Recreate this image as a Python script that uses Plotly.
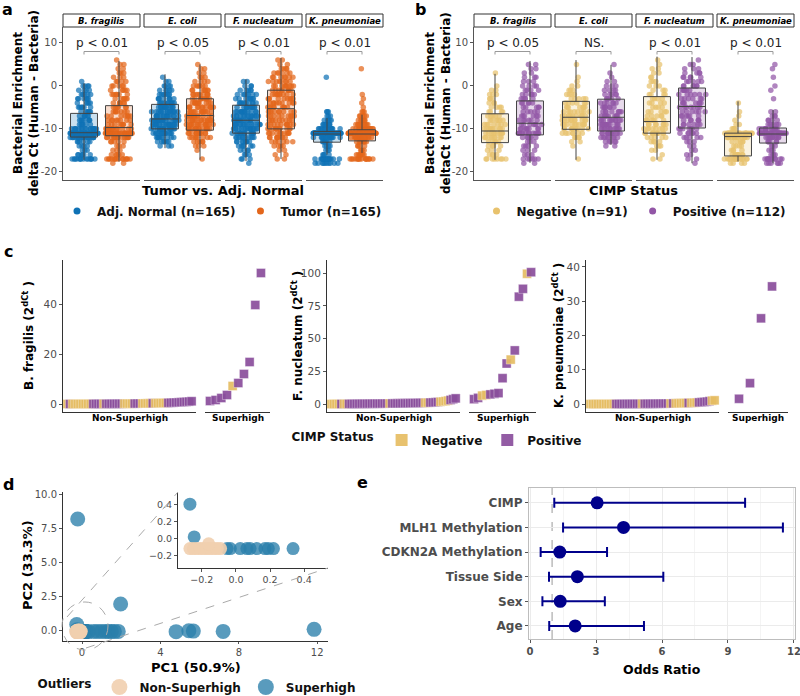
import numpy as np
import plotly.graph_objects as go

W, H = 800, 696
FONT = "DejaVu Sans"
TICK_COLOR = "#4d4d4d"
TF = dict(family=FONT, size=10, color=TICK_COLOR)

# ---------------- data: panels a / b (delta Ct, counts per 1-unit bin) ----------------
species = ["B. fragilis", "E. coli", "F. nucleatum", "K. pneumoniae"]
dct_bins = list(range(-18, 7))  # -18 ... 6

a_normal_counts = [
    [0, 14, 6, 3, 4, 6, 22, 38, 16, 6, 7, 6, 6, 6, 5, 6, 5, 4, 4, 1, 0, 0, 0, 0, 0],
    [0, 0, 0, 0, 3, 6, 9, 14, 18, 18, 18, 16, 14, 12, 10, 8, 7, 5, 4, 2, 1, 0, 0, 0, 0],
    [1, 3, 3, 4, 6, 8, 11, 14, 15, 15, 14, 13, 12, 11, 10, 8, 7, 5, 3, 2, 0, 0, 0, 0, 0],
    [10, 18, 4, 3, 4, 6, 14, 70, 16, 8, 5, 3, 3, 0, 0, 0, 0, 0, 0, 0, 1, 0, 0, 0, 0],
]
a_tumor_counts = [
    [2, 14, 5, 3, 3, 5, 14, 28, 12, 8, 8, 7, 7, 6, 6, 6, 6, 5, 5, 4, 3, 3, 2, 2, 1],
    [0, 1, 0, 1, 3, 5, 8, 12, 15, 14, 14, 13, 12, 12, 11, 10, 9, 7, 6, 4, 3, 2, 2, 1, 0],
    [0, 2, 2, 2, 4, 6, 8, 10, 11, 10, 9, 9, 9, 9, 9, 9, 9, 9, 9, 8, 7, 6, 4, 2, 2],
    [0, 16, 8, 4, 4, 8, 16, 58, 22, 10, 6, 5, 3, 1, 1, 1, 1, 0, 0, 0, 0, 0, 1, 0, 0],
]
b_neg_counts = [
    [0, 8, 4, 3, 4, 5, 8, 10, 10, 7, 6, 5, 4, 4, 3, 3, 3, 2, 1, 0, 0, 1, 0, 0, 0],
    [0, 1, 0, 0, 1, 2, 4, 7, 9, 10, 10, 9, 8, 7, 6, 5, 4, 3, 2, 1, 1, 0, 0, 1, 0],
    [0, 2, 1, 2, 3, 4, 5, 10, 8, 7, 6, 5, 5, 4, 4, 4, 4, 3, 3, 3, 2, 2, 2, 1, 1],
    [4, 16, 8, 4, 4, 5, 14, 26, 4, 2, 1, 1, 1, 0, 1, 0, 0, 0, 0, 0, 0, 0, 0, 0, 0],
]
b_pos_counts = [
    [2, 6, 3, 3, 4, 3, 6, 13, 8, 7, 6, 6, 5, 5, 5, 5, 5, 4, 4, 3, 3, 2, 2, 2, 0],
    [0, 0, 0, 0, 2, 5, 8, 12, 12, 11, 10, 9, 8, 7, 6, 5, 5, 4, 3, 2, 1, 1, 0, 1, 0],
    [1, 2, 2, 2, 2, 3, 5, 6, 7, 6, 6, 6, 6, 7, 7, 6, 6, 6, 6, 5, 5, 4, 3, 2, 1],
    [6, 12, 4, 3, 3, 5, 10, 34, 14, 6, 4, 3, 2, 0, 0, 1, 0, 1, 1, 0, 1, 0, 1, 1, 0],
]

# box statistics per species (q1, median, q3, lower whisker, upper whisker)
a_normal_q1 = [-11.9, -10.0, -11.0, -13.1]
a_normal_med = [-10.9, -7.7, -8.0, -11.2]
a_normal_q3 = [-6.4, -4.3, -4.5, -10.6]
a_normal_lo = [-17.2, -14.5, -17.5, -16.0]
a_normal_hi = [0.6, 2.7, 1.5, -7.5]
a_tumor_q1 = [-11.6, -10.3, -10.0, -12.8]
a_tumor_med = [-9.7, -6.9, -5.3, -11.2]
a_tumor_q3 = [-4.6, -3.0, -1.0, -10.2]
a_tumor_lo = [-17.6, -17.2, -17.0, -15.6]
a_tumor_hi = [5.8, 5.0, 6.5, -6.7]

b_neg_q1 = [-13.2, -10.1, -11.0, -16.3]
b_neg_med = [-10.5, -7.3, -8.3, -11.8]
b_neg_q3 = [-6.5, -3.6, -2.5, -11.0]
b_neg_lo = [-17.2, -17.2, -17.2, -17.6]
b_neg_hi = [2.8, 6.0, 6.8, -3.6]
b_pos_q1 = [-11.4, -10.5, -9.8, -13.3]
b_pos_med = [-8.7, -7.3, -4.8, -11.2]
b_pos_q3 = [-3.5, -3.1, -0.5, -9.8]
b_pos_lo = [-17.9, -13.7, -18.0, -18.0]
b_pos_hi = [5.8, 4.9, 6.7, -5.6]

a_pvals = ["p < 0.01", "p < 0.05", "p < 0.01", "p < 0.01"]
b_pvals = ["p < 0.05", "NS.", "p < 0.01", "p < 0.01"]
ab_ticks = [-20, -10, 0, 10]
ab_ticktext = ["-20", "-10", "0", "10"]

# ---------------- data: panel c (2^dCt, ranked) ----------------
c_bf_ns_status = ["Negative", "Positive", "Negative", "Positive", "Negative", "Positive",
                  "Negative", "Positive", "Negative", "Positive", "Negative", "Positive"]
c_bf_ns_len = [1, 1, 8, 4, 1, 7, 4, 3, 4, 1, 5, 10]
c_bf_ns_values = [0.00, 0.00, 0.01, 0.01, 0.01, 0.02, 0.02, 0.02, 0.03, 0.03,
                  0.04, 0.04, 0.05, 0.05, 0.06, 0.06, 0.07, 0.08, 0.08, 0.09,
                  0.10, 0.11, 0.12, 0.13, 0.14, 0.15, 0.16, 0.18, 0.19, 0.21,
                  0.23, 0.25, 0.27, 0.29, 0.31, 0.33, 0.36, 0.39, 0.42, 0.46,
                  0.50, 0.55, 0.60, 0.66, 0.72, 0.80, 0.88, 0.97, 1.10]
c_bf_sh_values = [1.2, 1.6, 2.4, 3.6, 7.2, 8.4, 12.0, 16.8, 39.6, 52.4]
c_bf_sh_status = ["Positive", "Positive", "Positive", "Positive", "Negative",
                  "Positive", "Positive", "Positive", "Positive", "Positive"]

c_fn_ns_status = ["Negative", "Positive", "Negative", "Positive", "Negative",
                  "Positive", "Negative", "Positive", "Negative", "Positive"]
c_fn_ns_len = [4, 1, 2, 16, 1, 13, 2, 4, 4, 3]
c_fn_ns_values = [0.05, 0.05, 0.10, 0.10, 0.10, 0.15, 0.15, 0.20, 0.20, 0.20,
                  0.25, 0.25, 0.30, 0.30, 0.30, 0.35, 0.35, 0.40, 0.40, 0.40,
                  0.45, 0.45, 0.50, 0.50, 0.55, 0.55, 0.60, 0.60, 0.65, 0.70,
                  0.70, 0.75, 0.80, 0.85, 0.90, 0.95, 1.00, 1.05, 1.10, 1.20,
                  1.30, 1.40, 1.60, 1.80, 2.00, 2.30, 2.70, 3.20, 3.80, 4.40]
c_fn_sh_values = [3.8, 4.8, 6.5, 7.0, 7.4, 7.9, 8.4, 19.8, 31.0, 34.0, 41.0, 82.0, 88.0, 99.5, 100.7]
c_fn_sh_status = ["Positive", "Positive", "Negative", "Negative", "Positive", "Positive",
                  "Positive", "Positive", "Positive", "Negative", "Positive", "Positive",
                  "Positive", "Negative", "Positive"]

c_kp_ns_status = ["Negative", "Positive", "Negative", "Positive", "Negative", "Positive",
                  "Negative", "Positive", "Negative", "Positive", "Negative"]
c_kp_ns_len = [10, 10, 1, 10, 1, 1, 5, 1, 3, 5, 2]
c_kp_ns_values = [0.01, 0.01, 0.01, 0.02, 0.02, 0.02, 0.03, 0.03, 0.03, 0.04,
                  0.04, 0.05, 0.05, 0.05, 0.06, 0.06, 0.07, 0.07, 0.08, 0.08,
                  0.09, 0.09, 0.10, 0.10, 0.11, 0.12, 0.13, 0.14, 0.15, 0.16,
                  0.17, 0.18, 0.20, 0.22, 0.24, 0.26, 0.28, 0.30, 0.33, 0.36,
                  0.40, 0.45, 0.50, 0.56, 0.63, 0.72, 0.85, 1.00, 1.10]
c_kp_sh_values = [1.55, 6.1, 25.0, 34.3]
c_kp_sh_status = ["Positive", "Positive", "Positive", "Positive"]

# ---------------- data: panel d (PCA) ----------------
d_sh_x = [-0.22, 1.97, -0.27, -0.245, -0.052, -0.033, 0.025, 0.064, 0.083, 0.122,
          0.17, 0.19, 0.22, 0.335, 0.6, 0.8, 1.0, 1.2, 1.35, 1.5, 1.65, 1.85,
          4.8, 5.45, 5.68, 7.2, 11.84]
d_sh_y = [8.2, 1.92, 0.40, 0.02, -0.115, -0.115, -0.115, -0.115, -0.115, -0.115,
          -0.115, -0.115, -0.115, -0.115, -0.1, -0.1, -0.1, -0.1, -0.1, -0.1, -0.1, -0.1,
          -0.12, -0.05, -0.08, -0.1, 0.05]
d_ns_x = [-0.27, -0.25, -0.23, -0.21, -0.19, -0.17, -0.15, -0.13, -0.11, -0.09, -0.16]
d_ns_y = [-0.115, -0.115, -0.115, -0.115, -0.115, -0.115, -0.115, -0.115, -0.115, -0.115, -0.06]

# ---------------- data: panel e (odds ratios) ----------------
e_vars = ["CIMP", "MLH1 Methylation", "CDKN2A Methylation", "Tissue Side", "Sex", "Age"]
e_or = [3.05, 4.25, 1.35, 2.15, 1.37, 2.05]
e_lo = [1.10, 1.50, 0.48, 0.86, 0.56, 0.87]
e_hi = [9.78, 11.50, 3.50, 6.06, 3.40, 5.18]

# ---------------- colours ----------------
BLUE, ORANGE = "#0F72B5", "#E3661B"
YEL, PUR = "#E8C26D", "#9256A6"
C_YEL, C_PUR = "#E6BD63", "#8A4E9C"
D_SH, D_NS = "#2A7FAB", "#F1CFAF"
NAVY = "#00008B"


def rgba(hexc, a):
    h = hexc.lstrip("#")
    return "rgba(%d,%d,%d,%.2f)" % (int(h[0:2], 16), int(h[2:4], 16), int(h[4:6], 16), a)


fig = go.Figure()
layout = dict(width=W, height=H, margin=dict(l=0, r=0, t=0, b=0, autoexpand=False),
              paper_bgcolor="white", plot_bgcolor="white",
              font=dict(family=FONT, color="#000"), boxmode="overlay", showlegend=True)
annotations = []
shapes = []
n_axes = [0]


def new_axes(x0, x1, top, bottom, xcfg, ycfg):
    n_axes[0] += 1
    n = n_axes[0]
    sx = "" if n == 1 else str(n)
    xc = dict(domain=[x0 / W, x1 / W], anchor="y" + sx, showgrid=False, zeroline=False,
              fixedrange=True, automargin=False, ticklabeloverflow="allow")
    xc.update(xcfg)
    yc = dict(domain=[1 - bottom / H, 1 - top / H], anchor="x" + sx, showgrid=False,
              zeroline=False, fixedrange=True, automargin=False, ticklabeloverflow="allow")
    yc.update(ycfg)
    layout["xaxis" + sx] = xc
    layout["yaxis" + sx] = yc
    return "x" + sx, "y" + sx


def ann(text, x, y, size, angle=0, color="#000", xanchor="center", yanchor="middle"):
    annotations.append(dict(text=text, x=x / W, y=1 - y / H, xref="paper", yref="paper",
                            showarrow=False, textangle=angle, xanchor=xanchor,
                            yanchor=yanchor, font=dict(family=FONT, size=size, color=color)))


def prect(x0, x1, top, bottom, **kw):
    d = dict(type="rect", xref="paper", yref="paper", x0=x0 / W, x1=x1 / W,
             y0=1 - bottom / H, y1=1 - top / H)
    d.update(kw)
    shapes.append(d)


# ---------------- panels a & b ----------------
def box_panel(x_starts, groups, pvals, legend_name):
    for k in range(4):
        x0 = x_starts[k]
        ycfg = dict(range=[-21.9, 13.7])
        if k == 0:
            ycfg.update(showline=True, linecolor="#555", linewidth=1, ticks="outside",
                        ticklen=3, tickcolor="#555", tickvals=ab_ticks, ticktext=ab_ticktext,
                        tickfont=TF)
        else:
            ycfg.update(showticklabels=False)
        xa, ya = new_axes(x0, x0 + 77, 27, 180,
                          dict(range=[0.4, 2.6], showticklabels=False, showline=True,
                               linecolor="#555", linewidth=1), ycfg)
        # points first
        for gi, g in enumerate(groups):
            vals = np.repeat(dct_bins, g["counts"][k])
            fig.add_trace(go.Box(y=vals, x0=gi + 1, width=0.8, boxpoints="all", jitter=1.0,
                                 pointpos=0, fillcolor="rgba(0,0,0,0)",
                                 line=dict(width=0, color="rgba(0,0,0,0)"),
                                 marker=dict(size=5.5, color=g["color"], opacity=0.72),
                                 showlegend=False, hoverinfo="y", xaxis=xa, yaxis=ya))
        for gi, g in enumerate(groups):
            fig.add_trace(go.Box(x=[gi + 1], q1=[g["q1"][k]], median=[g["med"][k]],
                                 q3=[g["q3"][k]], lowerfence=[g["lo"][k]],
                                 upperfence=[g["hi"][k]], width=0.77, boxpoints=False,
                                 whiskerwidth=0, fillcolor=rgba(g["color"], 0.22),
                                 line=dict(color="#444", width=1), showlegend=False,
                                 hoverinfo="skip", xaxis=xa, yaxis=ya))
        annotations.append(dict(text=pvals[k], x=1.5, y=10.0, xref=xa, yref=ya, showarrow=False,
                                font=dict(family=FONT, size=12, color="#222")))
        shapes.append(dict(type="path", path="M 1,7.3 L 1,8 L 2,8 L 2,7.3", xref=xa, yref=ya,
                           line=dict(color="#999", width=1)))
        prect(x0, x0 + 77, 14, 27, line=dict(color="#333", width=1), fillcolor="white")
        ann("<b><i>%s</i></b>" % species[k], x0 + 38.5, 20.5, 8.5)
    for g in groups:
        fig.add_trace(go.Scatter(x=[None], y=[None], mode="markers", name="<b>%s</b>" % g["name"],
                                 marker=dict(size=7, color=g["color"]), legend=legend_name,
                                 xaxis=xa, yaxis=ya))


box_panel([63, 144, 225, 306],
          [dict(name="Adj. Normal (n=165)", color=BLUE, counts=a_normal_counts, q1=a_normal_q1,
                med=a_normal_med, q3=a_normal_q3, lo=a_normal_lo, hi=a_normal_hi),
           dict(name="Tumor (n=165)", color=ORANGE, counts=a_tumor_counts, q1=a_tumor_q1,
                med=a_tumor_med, q3=a_tumor_q3, lo=a_tumor_lo, hi=a_tumor_hi)],
          a_pvals, "legend")
box_panel([474, 555, 636, 717],
          [dict(name="Negative (n=91)", color=YEL, counts=b_neg_counts, q1=b_neg_q1,
                med=b_neg_med, q3=b_neg_q3, lo=b_neg_lo, hi=b_neg_hi),
           dict(name="Positive (n=112)", color=PUR, counts=b_pos_counts, q1=b_pos_q1,
                med=b_pos_med, q3=b_pos_q3, lo=b_pos_lo, hi=b_pos_hi)],
          b_pvals, "legend2")

ann("<b>a</b>", 7, 9, 16)
ann("<b>b</b>", 420, 9, 16)
ann("<b>Bacterial Enrichment<br>delta Ct (Human - Bacteria)</b>", 26, 103, 12, angle=-90)
ann("<b>Bacterial Enrichment<br>deltaCt (Human - Bacteria)</b>", 438, 103, 12, angle=-90)
ann("<b>Tumor vs. Adj. Normal</b>", 223, 191, 13)
ann("<b>CIMP Status</b>", 633, 191, 13)

# ---------------- panel c ----------------
status_color = {"Negative": C_YEL, "Positive": C_PUR}
c_specs = [
    dict(title="B. fragilis", ns_vals=c_bf_ns_values, ns_stat=np.repeat(c_bf_ns_status, c_bf_ns_len),
         sh_vals=c_bf_sh_values, sh_stat=c_bf_sh_status, yr=[-3.2, 57.6], tv=[0, 20, 40],
         ax=63, ns_end=196, sh=(205, 270), sh_r=[-0.88, 10.6], tx=28),
    dict(title="F. nucleatum", ns_vals=c_fn_ns_values, ns_stat=np.repeat(c_fn_ns_status, c_fn_ns_len),
         sh_vals=c_fn_sh_values, sh_stat=c_fn_sh_status, yr=[-6, 110], tv=[0, 25, 50, 75, 100],
         ax=327, ns_end=460, sh=(469, 536), sh_r=[-1.23, 15.2], tx=297),
    dict(title="K. pneumoniae", ns_vals=c_kp_ns_values, ns_stat=np.repeat(c_kp_ns_status, c_kp_ns_len),
         sh_vals=c_kp_sh_values, sh_stat=c_kp_sh_status, yr=[-2.3, 42], tv=[0, 10, 20, 30, 40],
         ax=586, ns_end=719, sh=(728, 788), sh_r=[-1.0, 4.45], tx=558),
]
first_c_axes = None
for s in c_specs:
    n_ns = len(s["ns_vals"])
    xa, ya = new_axes(s["ax"], s["ns_end"], 260, 412,
                      dict(range=[-1.7, n_ns - 1 + 1.7], showticklabels=False, showline=True,
                           linecolor="#333", linewidth=1),
                      dict(range=s["yr"], showline=True, linecolor="#333", linewidth=1,
                           ticks="outside", ticklen=3, tickcolor="#555", tickvals=s["tv"],
                           tickfont=dict(family=FONT, size=10.5, color=TICK_COLOR)))
    if first_c_axes is None:
        first_c_axes = (xa, ya)
    fig.add_trace(go.Scatter(x=np.arange(n_ns), y=s["ns_vals"], mode="markers", showlegend=False,
                             marker=dict(symbol="square", size=9, opacity=0.92,
                                         color=[status_color[v] for v in s["ns_stat"]],
                                         line=dict(width=0.6, color="rgba(255,255,255,0.6)")),
                             xaxis=xa, yaxis=ya, cliponaxis=False))
    xb, yb = new_axes(s["sh"][0], s["sh"][1], 260, 412,
                      dict(range=s["sh_r"], showticklabels=False, showline=True,
                           linecolor="#333", linewidth=1),
                      dict(range=s["yr"], showticklabels=False))
    fig.add_trace(go.Scatter(x=np.arange(len(s["sh_vals"])), y=s["sh_vals"], mode="markers",
                             showlegend=False,
                             marker=dict(symbol="square", size=9, opacity=0.92,
                                         color=[status_color[v] for v in s["sh_stat"]],
                                         line=dict(width=0.6, color="rgba(255,255,255,0.6)")),
                             xaxis=xb, yaxis=yb, cliponaxis=False))
    ann("<b>Non-Superhigh</b>", (s["ax"] + s["ns_end"]) / 2, 418, 9)
    ann("<b>Superhigh</b>", (s["sh"][0] + s["sh"][1]) / 2, 418, 9)
    ann("<b>%s (2<sup>dCt</sup> )</b>" % s["title"], s["tx"], 336, 12, angle=-90)

for nm, col in [("Negative", C_YEL), ("Positive", C_PUR)]:
    fig.add_trace(go.Scatter(x=[None], y=[None], mode="markers", name="<b>%s</b>" % nm,
                             marker=dict(symbol="square", size=12, color=col, opacity=0.92),
                             legend="legend3", xaxis=first_c_axes[0], yaxis=first_c_axes[1]))
ann("<b>c</b>", 8, 252, 16)

# ---------------- panel d ----------------
xm, ym = new_axes(63, 328, 492, 641,
                  dict(range=[-0.97, 12.55], showline=True, linecolor="#333", linewidth=1,
                       ticks="outside", ticklen=2, tickcolor="#555", tickvals=[0, 4, 8, 12],
                       tickfont=TF),
                  dict(range=[-0.81, 10.2], showline=True, linecolor="#333", linewidth=1,
                       ticks="outside", ticklen=3, tickcolor="#555",
                       tickvals=[0, 2.5, 5, 7.5, 10], tickformat=".1f", tickfont=TF))
fig.add_trace(go.Scatter(x=d_sh_x, y=d_sh_y, mode="markers", name="<b>Superhigh</b>",
                         marker=dict(size=15, color=D_SH, opacity=0.78),
                         xaxis=xm, yaxis=ym, showlegend=False))
fig.add_trace(go.Scatter(x=d_ns_x, y=d_ns_y, mode="markers", name="<b>Non-Superhigh</b>",
                         marker=dict(size=15, color=D_NS, opacity=0.9),
                         xaxis=xm, yaxis=ym, showlegend=False))
xi, yi = new_axes(178, 328, 493, 568,
                  dict(range=[-0.34, 0.54], showline=True, linecolor="#333", linewidth=1,
                       ticks="outside", ticklen=3, tickcolor="#555", tickvals=[-0.2, 0, 0.2, 0.4],
                       tickformat=".1f", tickfont=dict(family=FONT, size=9.5, color=TICK_COLOR)),
                  dict(range=[-0.34, 0.53], showline=True, linecolor="#333", linewidth=1,
                       ticks="outside", ticklen=3, tickcolor="#555", tickvals=[-0.2, 0, 0.2, 0.4],
                       tickformat=".1f", tickfont=dict(family=FONT, size=9.5, color=TICK_COLOR)))
fig.add_trace(go.Scatter(x=d_sh_x, y=d_sh_y, mode="markers", showlegend=False,
                         marker=dict(size=13, color=D_SH, opacity=0.78), xaxis=xi, yaxis=yi))
fig.add_trace(go.Scatter(x=d_ns_x, y=d_ns_y, mode="markers", showlegend=False,
                         marker=dict(size=13, color=D_NS, opacity=0.9), xaxis=xi, yaxis=yi))
for nm, col, op in [("Non-Superhigh", D_NS, 0.9), ("Superhigh", D_SH, 0.78)]:
    fig.add_trace(go.Scatter(x=[None], y=[None], mode="markers", name="<b>%s</b>" % nm,
                             marker=dict(size=16, color=col, opacity=op), legend="legend4",
                             xaxis=xm, yaxis=ym))

dash = dict(color="#aaaaaa", width=1, dash="dash")
shapes.append(dict(type="circle", xref="paper", yref="paper", x0=62 / W, x1=108 / W,
                   y0=1 - 650 / H, y1=1 - 602 / H, line=dash))
shapes.append(dict(type="line", xref="paper", yref="paper", x0=67 / W, y0=1 - 617 / H,
                   x1=178 / W, y1=1 - 492 / H, line=dash))
shapes.append(dict(type="line", xref="paper", yref="paper", x0=86 / W, y0=1 - 648 / H,
                   x1=328 / W, y1=1 - 568 / H, line=dash))
ann("<b>d</b>", 8, 484, 16)
ann("<b>PC1 (50.9%)</b>", 196, 667, 13)
ann("<b>PC2 (33.3%)</b>", 27, 565, 13, angle=-90)

# ---------------- panel e ----------------
xe, ye = new_axes(529, 795, 488, 639,
                  dict(range=[-0.05, 12.05], tickvals=[0, 3, 6, 9, 12], showgrid=True,
                       gridcolor="#ebebeb", showline=True, mirror=True, linecolor="#bdbdbd",
                       ticks="outside", ticklen=3, tickcolor="#555",
                       minor=dict(tickvals=[1.5, 4.5, 7.5, 10.5], showgrid=True,
                                  gridcolor="#f4f4f4"),
                       tickfont=dict(family=FONT, size=10, color=TICK_COLOR, weight="bold")),
                  dict(type="category", categoryorder="array", categoryarray=e_vars[::-1],
                       range=[-0.53, 5.6], showgrid=True, gridcolor="#ebebeb", showline=True,
                       mirror=True, linecolor="#bdbdbd", ticks="outside", ticklen=3,
                       tickcolor="#555",
                       tickfont=dict(family=FONT, size=12, color=TICK_COLOR, weight="bold")))
shapes.append(dict(type="line", xref=xe, yref=ye + " domain", x0=1, x1=1, y0=0, y1=1,
                   layer="below", line=dict(color="#999", width=1, dash="dash")))
fig.add_trace(go.Scatter(x=e_or, y=e_vars, mode="markers", showlegend=False,
                         marker=dict(size=13, color=NAVY),
                         error_x=dict(type="data", symmetric=False,
                                      array=[h - o for h, o in zip(e_hi, e_or)],
                                      arrayminus=[o - l for o, l in zip(e_or, e_lo)],
                                      color=NAVY, thickness=2, width=5),
                         xaxis=xe, yaxis=ye))
ann("<b>e</b>", 362, 482, 16)
ann("<b>Odds Ratio</b>", 662, 669, 12.5)

# ---------------- legends ----------------
LF = dict(family=FONT, size=12, color="#111")
common = dict(orientation="h", xanchor="center", yanchor="middle", font=LF,
              bgcolor="rgba(0,0,0,0)", itemwidth=30, tracegroupgap=0, valign="middle")
layout["legend"] = dict(x=222 / W, y=1 - 211 / H, **common)
layout["legend2"] = dict(x=634 / W, y=1 - 211 / H, **common)
layout["legend3"] = dict(x=438 / W, y=1 - 440 / H,
                         title=dict(text="<b>CIMP Status</b>", side="left", font=LF), **common)
layout["legend4"] = dict(x=198 / W, y=1 - 687 / H,
                         title=dict(text="<b>Outliers</b>", side="left", font=LF), **common)

layout["annotations"] = annotations
layout["shapes"] = shapes
fig.update_layout(**layout)
fig.write_html("out.html", config={"displayModeBar": False},
               post_script="document.body.style.margin='0';document.body.style.overflow='hidden';")
